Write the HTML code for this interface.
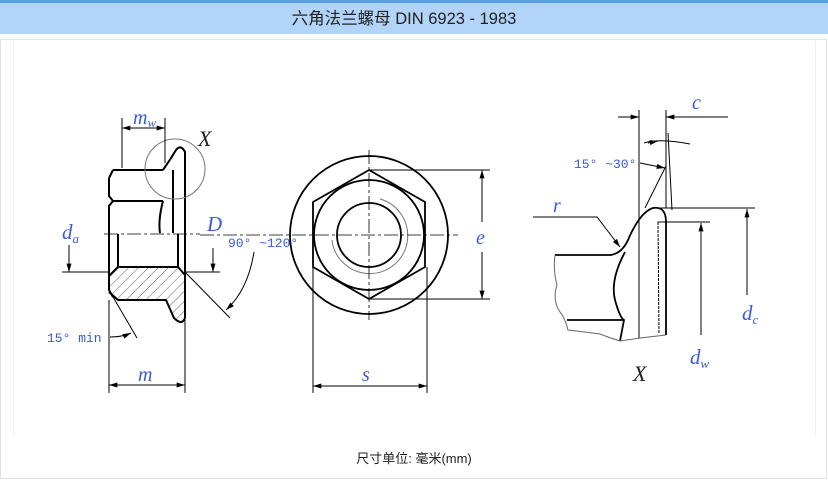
<!DOCTYPE html>
<html><head><meta charset="utf-8"><style>
body{margin:0;width:828px;height:486px;background:#fff;overflow:hidden;font-family:"Liberation Sans","Noto Sans CJK SC",sans-serif}
</style></head><body>
<svg width="828" height="486" viewBox="0 0 828 486" xmlns="http://www.w3.org/2000/svg">
<defs>
<pattern id="h" width="7" height="7" patternUnits="userSpaceOnUse" patternTransform="rotate(45)"><line x1="0" y1="0" x2="0" y2="7" stroke="#333" stroke-width="0.8"/></pattern>
<marker id="a" viewBox="0 0 10 6" refX="10" refY="3" markerWidth="9" markerHeight="5" orient="auto-start-reverse" markerUnits="userSpaceOnUse"><path d="M0,0L10,3L0,6z" fill="#000"/></marker>
</defs>
<rect x="0" y="0" width="828" height="3" fill="#5a9ee8"/>
<rect x="0" y="3" width="828" height="31" fill="#b1d4f8"/>
<text x="404" y="24" font-size="16.5" text-anchor="middle" fill="#222" font-family="Liberation Sans,Noto Sans CJK SC,sans-serif">六角法兰螺母 DIN 6923 - 1983</text>
<rect x="0.5" y="39.5" width="826" height="439" fill="none" stroke="#e2e2e2"/>
<line x1="13.5" y1="40" x2="13.5" y2="437" stroke="#f2f2f2"/>
<line x1="815.5" y1="40" x2="815.5" y2="437" stroke="#f2f2f2"/>
<text x="414" y="463" font-size="13" text-anchor="middle" fill="#222">尺寸单位: 毫米(mm)</text>

<g fill="none" stroke="#000" stroke-width="1">
<g stroke-width="2">
<path d="M113,170 L163,170 M109,178 L113,170 M109,178 L109,196 L113,201 L109,206 L109,290 L113,297 M113,201 L163,201"/>
<path d="M163,170 Q170,160 176,150 Q181,144 185,152 L185,318 Q182,326 174,318 L166,300 L118,300 L109,292"/>
<path d="M163,201 Q158,220 160,233"/>
<path d="M173,170 L173,233"/>
<path d="M118,234 L118,267 L178,267 L178,234"/>
<path d="M109,276 L118,267 M178,267 L185,275"/>
</g>
<path d="M109,276 L118,267 L178,267 L185,275 L185,318 Q182,326 174,318 L166,300 L118,300 L109,292 Z" fill="url(#h)" stroke="none"/>
<circle cx="175" cy="169" r="30" stroke="#777"/>
<path d="M122,168 L122,118 M165,163 L165,118"/>
<line x1="122" y1="128" x2="165" y2="128" marker-start="url(#a)" marker-end="url(#a)"/>
<path d="M104,234 L200,234" stroke-dasharray="14,3,3,3" stroke-width="0.8"/>
<path d="M62,272 L108,272 M186,272 L220,272"/>
<line x1="69" y1="245" x2="69" y2="272" marker-end="url(#a)"/>
<line x1="213" y1="248" x2="213" y2="272" marker-end="url(#a)"/>
<path d="M185,272 L230,318"/>
<path d="M254,252 Q248,290 226,310" marker-end="url(#a)"/>
<path d="M113,297 L137,338"/>
<path d="M110,337 Q122,337 131,333" marker-end="url(#a)"/>
<path d="M109,300 L109,393 M185,320 L185,393"/>
<line x1="109" y1="385" x2="185" y2="385" marker-start="url(#a)" marker-end="url(#a)"/>

<g stroke-width="1.8">
<circle cx="369" cy="235" r="79"/>
<polygon points="369,170 425,202 425,267 369,299 313,267 313,202"/>
<circle cx="369" cy="235" r="55"/>
<circle cx="369" cy="235" r="32"/>
</g>
<path d="M380,199 A38,38 0 1 1 332,240" stroke="#777"/>
<path d="M200,235 L458,235 M369,150 L369,320" stroke-dasharray="14,3,3,3" stroke-width="0.8"/>
<path d="M369,170 L490,170 M369,299 L490,299"/>
<line x1="482" y1="222" x2="482" y2="170" marker-end="url(#a)"/>
<line x1="482" y1="252" x2="482" y2="299" marker-end="url(#a)"/>
<path d="M313,267 L313,393 M427,267 L427,393"/>
<line x1="313" y1="386" x2="427" y2="386" marker-start="url(#a)" marker-end="url(#a)"/>

<path d="M639,110 L639,338 M666,110 L666,208"/>
<line x1="618" y1="117" x2="639" y2="117" marker-end="url(#a)"/>
<line x1="728" y1="117" x2="666" y2="117" marker-end="url(#a)"/>
<path d="M668,133 L672,210"/>
<path d="M644,143 Q660,138 690,144"/>
<path d="M648,143 L658,141" marker-end="url(#a)"/>
<path d="M640,163 L665,168" marker-end="url(#a)"/>
<path d="M645,208 L666,166"/>
<path d="M653,208 L755,208 M658,222 L710,222"/>
<line x1="747" y1="295" x2="747" y2="209" marker-end="url(#a)"/>
<line x1="701" y1="335" x2="701" y2="223" marker-end="url(#a)"/>
<path d="M533,217 L597,217 L620,247" marker-end="url(#a)"/>
<g stroke-width="1.8">
<path d="M555,255 L611,255 Q622,253 628,240 Q640,212 653,208 Q666,206 666,222 L666,335"/>
<path d="M625,252 Q610,280 615,300 Q620,318 624,320 L620,341"/>
<path d="M567,320 L623,320"/>
</g>
<path d="M658,222 L659,334" stroke-dasharray="3,1"/>
<path d="M555,255 Q553,270 557,285 Q552,300 560,312 Q565,318 568,330 Q585,332 600,334 Q610,338 620,341 L640,338 L666,335" stroke="#666"/>
</g>

<g font-family="Liberation Serif,serif" font-style="italic" fill="#3a5bd6">
<text x="133" y="124" font-size="20">m<tspan font-size="13" dy="3">w</tspan></text>
<text x="62" y="239" font-size="21">d<tspan font-size="13" dy="4">a</tspan></text>
<text x="207" y="231" font-size="21">D</text>
<text x="138" y="381" font-size="20">m</text>
<text x="362" y="381" font-size="20">s</text>
<text x="476" y="244" font-size="20">e</text>
<text x="692" y="109" font-size="20">c</text>
<text x="553" y="212" font-size="20">r</text>
<text x="742" y="320" font-size="21">d<tspan font-size="13" dy="4">c</tspan></text>
<text x="690" y="364" font-size="21">d<tspan font-size="13" dy="4">w</tspan></text>
</g>
<g font-family="Liberation Serif,serif" font-style="italic" fill="#222" font-size="22">
<text x="198" y="146">X</text>
<text x="633" y="381">X</text>
</g>
<g font-family="Liberation Mono,DejaVu Sans Mono,monospace" fill="#3a5bd6" font-size="13">
<text x="228" y="247">90° ~120°</text>
<text x="47" y="342">15° min</text>
<text x="574" y="168">15° ~30°</text>
</g>
</svg>
</body></html>
